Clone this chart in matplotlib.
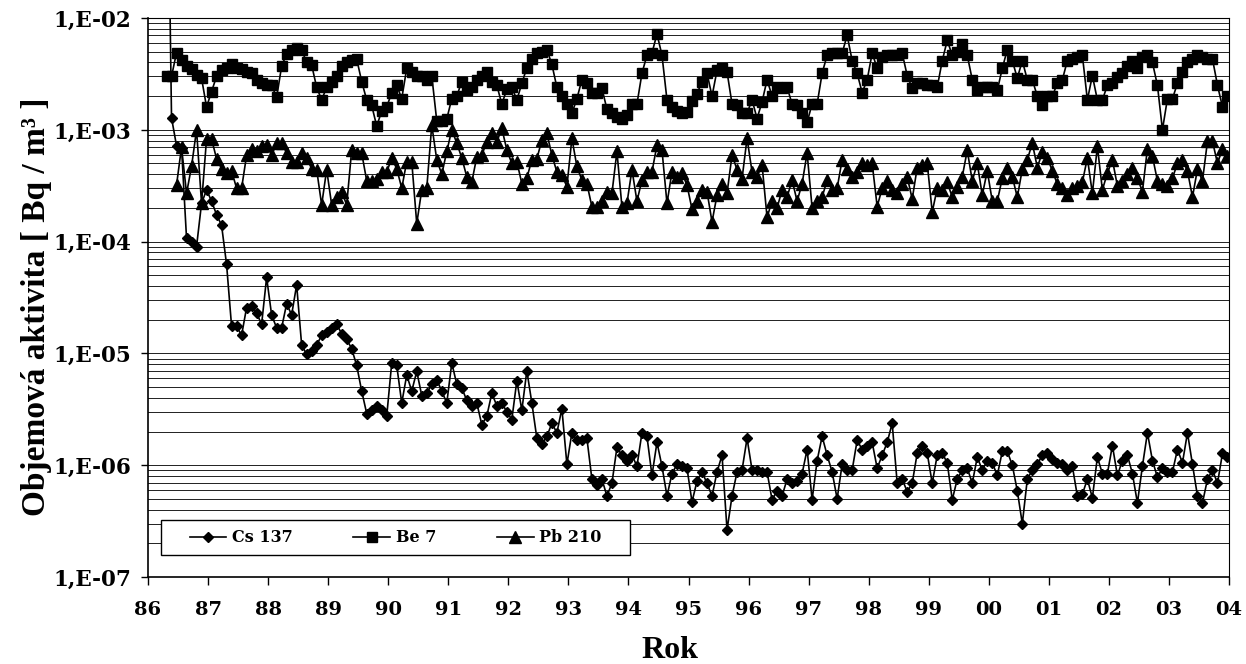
import numpy as np
import matplotlib.pyplot as plt
from matplotlib.patches import Rectangle
from matplotlib.ticker import FixedLocator, LogLocator, NullFormatter

# monthly values; month 0 = January 1986
cs_start = 3
cs137 = [
    2.0,
    1.28e-3, 7.2e-4, 6.9e-4, 1.07e-4, 1.0e-4, 9.0e-5, 2.2e-4, 2.9e-4,
    2.3e-4, 1.74e-4, 1.4e-4, 6.25e-5, 1.75e-5, 1.75e-5, 1.45e-5, 2.57e-5, 2.68e-5, 2.3e-5, 1.82e-5, 4.78e-5,
    2.21e-5, 1.69e-5, 1.69e-5, 2.78e-5, 2.21e-5, 4.1e-5, 1.19e-5, 9.8e-6, 1.05e-5, 1.19e-5, 1.45e-5, 1.56e-5,
    1.69e-5, 1.82e-5, 1.5e-5, 1.34e-5, 1.1e-5, 7.8e-6, 4.6e-6, 2.9e-6, 3.1e-6, 3.4e-6, 3.1e-6, 2.75e-6,
    8.2e-6, 7.8e-6, 3.6e-6, 6.4e-6, 4.6e-6, 6.9e-6, 4.2e-6, 4.4e-6, 5.3e-6, 5.8e-6, 4.6e-6, 3.6e-6,
    8.2e-6, 5.3e-6, 4.9e-6, 3.8e-6, 3.4e-6, 3.6e-6, 2.3e-6, 2.75e-6, 4.4e-6, 3.4e-6, 3.6e-6, 3.0e-6,
    2.56e-6, 5.7e-6, 3.1e-6, 7.0e-6, 3.6e-6, 1.74e-6, 1.55e-6, 1.81e-6, 2.37e-6, 1.95e-6, 3.2e-6, 1.02e-6,
    1.95e-6, 1.67e-6, 1.67e-6, 1.74e-6, 7.5e-7, 6.65e-7, 7.5e-7, 5.3e-7, 6.9e-7, 1.44e-6, 1.23e-6, 1.1e-6,
    1.23e-6, 9.8e-7, 1.95e-6, 1.81e-6, 8.1e-7, 1.6e-6, 9.8e-7, 5.3e-7, 8.4e-7, 1.02e-6, 9.8e-7, 9.4e-7,
    4.7e-7, 7.2e-7, 8.7e-7, 6.9e-7, 5.3e-7, 8.7e-7, 1.23e-6, 2.64e-7, 5.3e-7, 8.7e-7, 9.05e-7, 1.74e-6,
    9.05e-7, 9.05e-7, 8.7e-7, 8.7e-7, 4.9e-7, 5.9e-7, 5.3e-7, 7.5e-7, 6.9e-7, 7.2e-7, 8.4e-7, 1.38e-6,
    4.9e-7, 1.1e-6, 1.81e-6, 1.23e-6, 8.7e-7, 5.0e-7, 1.02e-6, 9.05e-7, 9.05e-7, 1.67e-6, 1.38e-6, 1.5e-6,
    1.6e-6, 9.4e-7, 1.23e-6, 1.6e-6, 2.37e-6, 6.9e-7, 7.5e-7, 5.8e-7, 6.9e-7, 1.28e-6, 1.5e-6, 1.28e-6,
    6.9e-7, 1.23e-6, 1.28e-6, 1.05e-6, 4.9e-7, 7.5e-7, 9.05e-7, 9.4e-7, 6.9e-7, 1.18e-6, 9.05e-7, 1.1e-6,
    1.05e-6, 8.1e-7, 1.33e-6, 1.33e-6, 1.0e-6, 5.9e-7, 3.0e-7, 7.5e-7, 9.05e-7, 1.02e-6, 1.23e-6, 1.28e-6,
    1.14e-6, 1.05e-6, 1.02e-6, 9.05e-7, 9.8e-7, 5.3e-7, 5.5e-7, 7.5e-7, 5.1e-7, 1.18e-6, 8.4e-7, 8.4e-7,
    1.5e-6, 8.1e-7, 1.1e-6, 1.23e-6, 8.4e-7, 4.6e-7, 9.8e-7, 1.95e-6, 1.1e-6, 7.8e-7, 9.4e-7, 8.7e-7,
    8.7e-7, 1.38e-6, 1.05e-6, 1.95e-6, 1.02e-6, 5.3e-7, 4.6e-7, 7.5e-7, 9.05e-7, 6.9e-7, 1.28e-6, 1.18e-6,
]

be_start = 3
be7 = [  # x 1e-3
    3.0, 3.0, 4.9, 4.2, 3.7, 3.5, 3.1, 2.9, 1.6,
    2.2, 3.0, 3.4, 3.6, 3.9, 3.6, 3.5, 3.3, 3.2, 2.8, 2.6, 2.5,
    2.5, 1.95, 3.7, 4.8, 5.2, 5.4, 5.2, 4.0, 3.8, 2.4, 1.85, 2.4,
    2.7, 3.05, 3.7, 4.0, 4.2, 4.3, 2.7, 1.85, 1.65, 1.08, 1.47, 1.6,
    2.15, 2.5, 1.9, 3.55, 3.3, 3.05, 3.05, 2.8, 3.05, 1.2, 1.2, 1.25,
    1.9, 2.0, 2.7, 2.25, 2.4, 2.8, 3.05, 3.3, 2.7, 2.5, 1.7, 2.3,
    2.4, 1.85, 2.6, 3.6, 4.3, 4.85, 5.0, 5.2, 3.85, 2.4, 2.0, 1.7,
    1.4, 1.9, 2.8, 2.6, 2.15, 2.15, 2.35, 1.53, 1.41, 1.3, 1.26, 1.36,
    1.7, 1.7, 3.2, 4.65, 4.85, 7.2, 4.65, 1.85, 1.6, 1.47, 1.41, 1.45,
    1.8, 2.1, 2.7, 3.2, 2.0, 3.4, 3.55, 3.3, 1.7, 1.65, 1.41, 1.41,
    1.85, 1.26, 1.78, 2.8, 2.0, 2.4, 2.35, 2.4, 1.7, 1.65, 1.41, 1.17,
    1.7, 1.7, 3.2, 4.65, 4.85, 4.85, 4.85, 7.0, 4.15, 3.2, 2.15, 2.8,
    4.85, 3.55, 4.5, 4.65, 4.65, 4.65, 4.85, 3.05, 2.35, 2.6, 2.6, 2.5,
    2.5, 2.4, 4.15, 6.3, 4.65, 5.0, 5.9, 4.65, 2.8, 2.25, 2.4, 2.4,
    2.4, 2.25, 3.55, 5.2, 4.15, 2.9, 4.15, 2.8, 2.8, 2.0, 1.65, 2.0,
    2.0, 2.6, 2.8, 4.15, 4.3, 4.5, 4.65, 1.85, 3.05, 1.85, 1.85, 2.5,
    2.6, 2.95, 3.2, 3.7, 4.15, 3.55, 4.5, 4.65, 4.0, 2.5, 1.0, 1.9,
    1.9, 2.6, 3.3, 4.0, 4.3, 4.65, 4.5, 4.3, 4.3, 2.5, 1.6, 2.0,
]

pb_start = 5
pb210 = [  # x 1e-4
    3.2, 7.0, 2.7, 4.7, 10.0, 2.2, 8.3,
    8.3, 5.5, 4.5, 4.1, 4.3, 3.0, 3.0, 5.9, 6.7, 6.5, 7.2, 7.3,
    5.9, 7.6, 7.6, 6.2, 5.2, 5.2, 6.2, 5.55, 4.5, 4.4, 2.13, 4.4,
    2.13, 2.5, 2.8, 2.13, 6.6, 6.2, 6.2, 3.5, 3.5, 3.6, 4.2, 4.2,
    5.55, 4.5, 3.0, 5.2, 5.2, 1.45, 2.9, 3.0, 11.0, 5.4, 4.0, 6.4,
    10.0, 7.6, 5.6, 3.8, 3.4, 5.75, 5.95, 7.8, 9.3, 7.8, 10.3, 6.6,
    5.0, 5.2, 3.3, 3.7, 5.4, 5.5, 8.1, 9.3, 5.95, 4.2, 3.95, 3.1,
    8.4, 4.7, 3.55, 3.3, 2.05, 2.05, 2.3, 2.8, 2.7, 6.4, 2.05, 2.2,
    4.4, 2.3, 3.55, 4.2, 4.2, 7.3, 6.6, 2.2, 4.2, 3.8, 4.1, 3.2,
    1.95, 2.3, 2.9, 2.8, 1.5, 2.6, 3.3, 2.7, 5.95, 4.4, 3.65, 8.4,
    4.2, 3.8, 4.85, 1.65, 2.3, 2.0, 2.9, 2.5, 3.55, 2.3, 3.3, 6.2,
    2.0, 2.3, 2.5, 3.55, 2.9, 3.0, 5.4, 4.5, 3.8, 4.2, 5.0, 4.8,
    5.0, 2.06, 3.0, 3.5, 2.9, 2.7, 3.3, 3.8, 2.4, 4.6, 4.8, 5.0,
    1.84, 3.0, 2.9, 3.4, 2.5, 3.1, 3.8, 6.55, 3.5, 5.0, 2.6, 4.3,
    2.3, 2.3, 3.7, 4.6, 3.8, 2.5, 4.45, 5.4, 7.6, 4.6, 6.3, 5.6,
    4.3, 3.27, 3.0, 2.6, 3.0, 3.15, 3.4, 5.6, 2.7, 7.1, 2.9, 4.1,
    5.4, 3.15, 3.5, 4.0, 4.6, 3.7, 2.8, 6.8, 5.8, 3.5, 3.27, 3.15,
    3.7, 5.0, 5.4, 4.3, 2.5, 4.45, 3.5, 7.9, 7.9, 5.0, 6.8, 5.8,
]

year_ticks = list(range(86, 105))
year_labels = ["86", "87", "88", "89", "90", "91", "92", "93", "94", "95",
               "96", "97", "98", "99", "00", "01", "02", "03", "04"]
decades = [1e-7, 1e-6, 1e-5, 1e-4, 1e-3, 1e-2]
decade_labels = ["1,E-07", "1,E-06", "1,E-05", "1,E-04", "1,E-03", "1,E-02"]


def month_axis(start, n):
    # sampling point sits late in each month
    return 86 + (np.arange(start, start + n) + 0.7) / 12.0


fig = plt.figure(figsize=(12.46, 6.64), dpi=100)
ax = fig.add_axes([148 / 1246, 1 - 577 / 664, (1229 - 148) / 1246, (577 - 18) / 664])

ax.set_yscale("log")
ax.set_xlim(86, 104)
ax.set_ylim(1e-7, 1e-2)

ax.plot(month_axis(cs_start, len(cs137)), cs137, color="black", lw=1.2,
        marker="D", ms=5.4, label="Cs 137")
ax.plot(month_axis(be_start, len(be7)), np.array(be7) * 1e-3, color="black", lw=1.2,
        marker="s", ms=7.8, label="Be 7")
ax.plot(month_axis(pb_start, len(pb210)), np.array(pb210) * 1e-4, color="black", lw=1.2,
        marker="^", ms=8.0, label="Pb 210")

ax.xaxis.set_major_locator(FixedLocator(year_ticks))
ax.set_xticklabels(year_labels, family="DejaVu Serif", weight="bold", size=14)
ax.yaxis.set_major_locator(FixedLocator(decades))
ax.set_yticklabels(decade_labels, family="DejaVu Serif", weight="bold", size=15.5)
ax.yaxis.set_minor_locator(LogLocator(base=10, subs=np.arange(2, 10), numticks=20))
ax.yaxis.set_minor_formatter(NullFormatter())

ax.tick_params(axis="x", which="major", direction="out", length=6, width=1, pad=11)
ax.tick_params(axis="y", which="major", direction="out", length=5, width=1, pad=7)
ax.tick_params(which="minor", length=0)

ax.set_axisbelow(True)
ax.grid(True, which="both", axis="y", color="#202020", lw=0.7)

for side in ["left", "bottom"]:
    ax.spines[side].set_linewidth(1.2)
for side in ["top", "right"]:
    ax.spines[side].set_linewidth(0.8)

# legend box drawn separately so the entries can sit with wide side margins
box = Rectangle((0.012, 0.039), 0.434, 0.063, transform=ax.transAxes,
                facecolor="white", edgecolor="black", lw=1.0, zorder=4)
ax.add_patch(box)
leg = ax.legend(loc="center", bbox_to_anchor=(0.012 + 0.434 / 2, 0.039 + 0.063 / 2),
                ncol=3, frameon=False, numpoints=1, handlelength=2.3,
                handletextpad=0.35, columnspacing=3.8, borderpad=0, borderaxespad=0,
                prop=dict(family="DejaVu Serif", weight="bold", size=11.5))
leg.set_zorder(5)

fig.text(670 / 1246, 1 - 650 / 664, "Rok", ha="center", va="center",
         family="Liberation Serif", weight="bold", size=23)
fig.text(37 / 1246, 1 - 307 / 664, "Objemová aktivita [ Bq / m³ ]", ha="center",
         va="center", rotation=90, family="Liberation Serif", weight="bold", size=24)

fig.savefig("out.png", dpi=100)
